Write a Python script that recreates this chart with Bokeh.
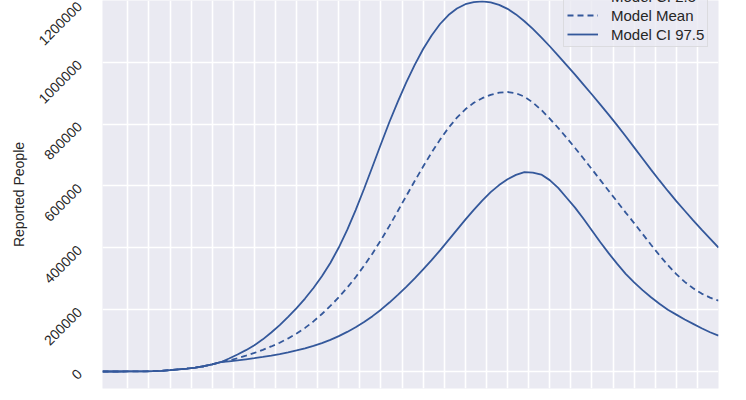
import math
from bokeh.plotting import figure
from bokeh.models import FixedTicker, BasicTickFormatter, Legend, LegendItem, Range1d
from bokeh.embed import file_html
from bokeh.resources import INLINE

# ---- data ----
days = [0, 2, 4, 6, 8, 10, 12, 14, 16, 18, 20, 22, 24, 26, 28, 30, 32, 34, 36, 38,
        40, 42, 44, 46, 48, 50, 52, 54, 56, 58, 60, 62, 64, 66, 68, 70, 72, 74, 76, 78,
        80, 82, 84, 86, 88, 90, 92, 94, 96, 98, 100, 102, 104, 106, 108, 110, 112, 114,
        116, 118, 120, 122, 124, 126, 128, 130, 132, 134, 136, 138, 140, 142, 144, 146]

ci_low = [0, 0, 0, 100, 300, 600, 1200, 2200, 4500, 7000,
          9500, 12500, 17000, 23000, 30000, 33000, 36000, 39500, 43000, 47000,
          51500, 56500, 62000, 68000, 75000, 83000, 92000, 102500, 114500, 128000,
          143000, 160000, 179000, 200000, 223000, 248000, 274000, 301000, 330000, 360000,
          392000, 425000, 458000, 491000, 523000, 553000, 580000, 603000, 622000, 636000,
          645000, 643000, 637000, 619000, 594000, 562000, 530000, 494000, 456000, 418000,
          382000, 348000, 316000, 288000, 263000, 240000, 219000, 200000, 184000, 168000,
          154000, 140000, 127000, 116000]

model_mean = [0, 0, 0, 100, 300, 600, 1200, 2200, 4500, 7000,
              9500, 12500, 17000, 23000, 30000, 36000, 43000, 51000, 60000, 70000,
              81000, 93000, 107000, 123000, 141000, 162000, 186000, 212000, 240000, 271000,
              305000, 342000, 382000, 425000, 471000, 519000, 568000, 616000, 663000, 708000,
              750000, 788000, 821000, 848000, 869000, 884000, 895000, 902000, 904000, 900000,
              889000, 870000, 846000, 818000, 788000, 756000, 723000, 689000, 654000, 619000,
              584000, 549000, 514000, 480000, 445000, 410000, 376000, 344000, 315000, 290000,
              269000, 252000, 239000, 229000]

ci_high = [0, 0, 0, 100, 300, 600, 1200, 2200, 4500, 7000,
           9500, 12500, 17000, 23000, 30000, 42000, 55000, 69000, 85000, 104000,
           126000, 150000, 177000, 205000, 236000, 270000, 308000, 351000, 401000, 458000,
           522000, 591000, 663000, 736000, 807000, 873000, 935000, 992000, 1043000, 1087000,
           1124000, 1153000, 1174000, 1188000, 1195000, 1197000, 1194000, 1186000, 1173000, 1155000,
           1133000, 1108000, 1081000, 1052000, 1022000, 991000, 960000, 928000, 896000, 863000,
           830000, 796000, 761000, 725000, 689000, 653000, 618000, 584000, 551000, 520000,
           489000, 459000, 430000, 401000]

y_ticks = [0, 200000, 400000, 600000, 800000, 1000000, 1200000]
x_ticks = [6, 11, 16, 21, 26, 31, 36, 41, 46, 51, 56, 61, 66, 71, 76, 81, 86,
           91, 96, 101, 106, 111, 116, 121, 126, 131, 136, 141, 146]

labels = ["Model CI 2.5", "Model Mean", "Model CI 97.5"]

BLUE = "#34589b"
TEXT = "#262626"
FONT = "Liberation Sans"

p = figure(width=746, height=400, output_backend="svg", toolbar_location=None,
           x_range=Range1d(0, 146), y_range=Range1d(-55000, 1200000),
           min_border_left=102, min_border_right=28, min_border_top=0,
           min_border_bottom=12)

p.background_fill_color = "#EAEAF2"
p.border_fill_color = "white"
p.outline_line_color = None

p.xaxis.ticker = FixedTicker(ticks=x_ticks)
p.xaxis.visible = False

p.yaxis.ticker = FixedTicker(ticks=y_ticks)
p.yaxis.formatter = BasicTickFormatter(use_scientific=False)
p.yaxis.major_label_orientation = math.pi / 4
p.yaxis.axis_line_color = None
p.yaxis.major_tick_line_color = None
p.yaxis.minor_tick_line_color = None
p.yaxis.major_label_text_font = FONT
p.yaxis.major_label_text_font_size = "14px"
p.yaxis.major_label_text_color = TEXT
p.yaxis.major_label_standoff = 17
p.yaxis.axis_label = "Reported People"
p.yaxis.axis_label_text_font = FONT
p.yaxis.axis_label_text_font_size = "14px"
p.yaxis.axis_label_text_font_style = "normal"
p.yaxis.axis_label_text_color = TEXT
p.yaxis.axis_label_standoff = 4

for g in (p.xgrid, p.ygrid):
    g.grid_line_color = "white"
    g.grid_line_width = 1.6

r_low = p.line(days, ci_low, line_color=BLUE, line_width=1.8)
r_mean = p.line(days, model_mean, line_color=BLUE, line_width=1.8, line_dash="6 4")
r_high = p.line(days, ci_high, line_color=BLUE, line_width=1.8)

legend = Legend(items=[LegendItem(label=labels[0], renderers=[r_low]),
                       LegendItem(label=labels[1], renderers=[r_mean]),
                       LegendItem(label=labels[2], renderers=[r_high])],
                location=(461, 341))
legend.label_text_font = FONT
legend.label_text_font_size = "15px"
legend.label_text_color = TEXT
legend.glyph_width = 31
legend.glyph_height = 18
legend.label_height = 18
legend.label_standoff = 13
legend.spacing = 1
legend.padding = 3
legend.margin = 0
legend.background_fill_color = "#EAEAF2"
legend.background_fill_alpha = 0.8
legend.border_line_color = "#CCCCCC"
legend.border_line_width = 1
p.add_layout(legend)

open("out.html", "w").write(file_html(p, INLINE))
